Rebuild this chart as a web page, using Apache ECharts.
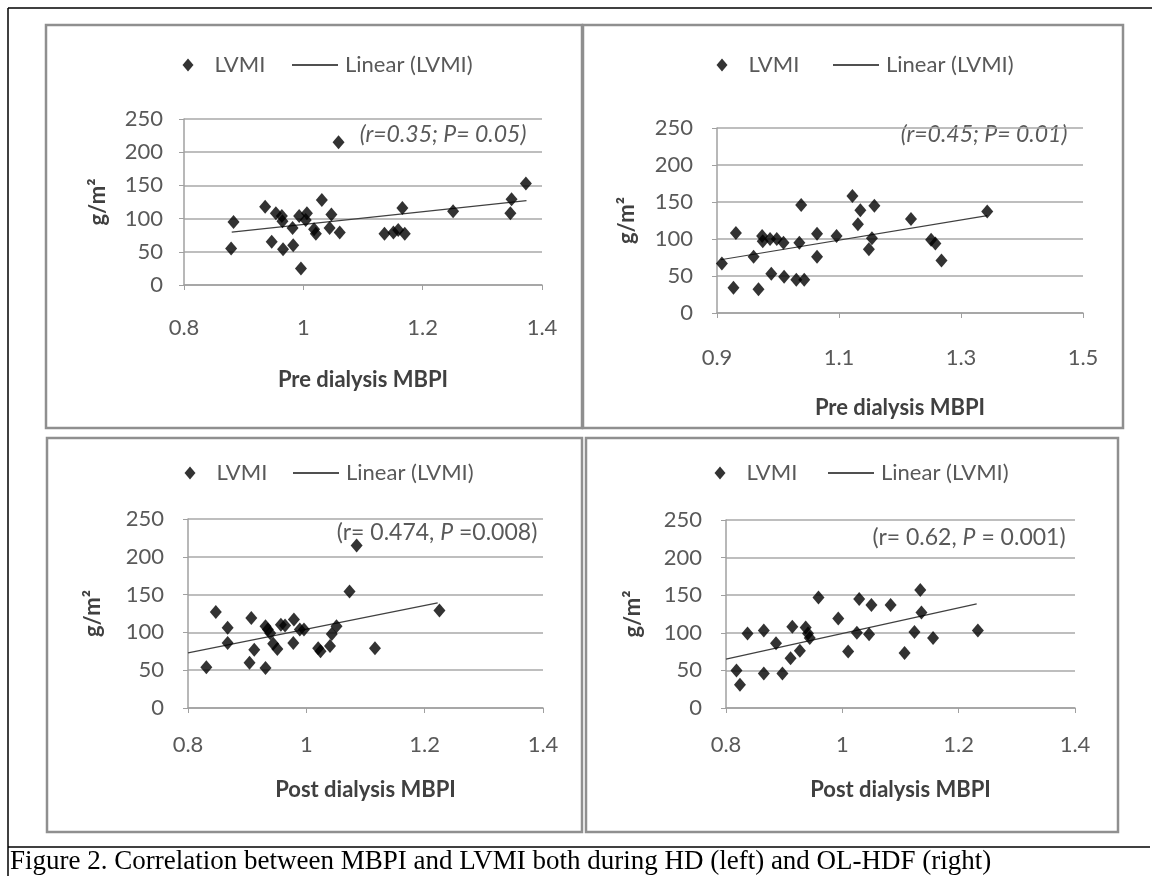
<!DOCTYPE html>
<html><head><meta charset="utf-8">
<script src="https://cdn.jsdelivr.net/npm/echarts@6/dist/echarts.min.js"></script>
<style>html,body{margin:0;padding:0;background:#fff}#c{width:1152px;height:876px}</style>
</head><body><div id="c"></div>
<script>
// ---- Data ----
// HD, pre dialysis (top left)
const hdPreX = [0.879,0.883,0.936,0.947,0.954,0.964,0.965,0.966,0.982,0.983,0.996,0.993,1.006,1.004,1.018,1.021,1.031,1.044,1.047,1.061,1.059,1.136,1.151,1.159,1.166,1.170,1.251,1.347,1.349,1.373];
const hdPreY = [55,95,118,65,108,104,96,54,86,60,25,104,108,98,84,77,128,86,106,79,215,77,79,83,116,77,111,108,129,153];
const hdPreTrendX = [0.880, 1.374];
const hdPreTrendY = [79.5, 127];
// OL-HDF, pre dialysis (top right)
const hdfPreX = [0.908,0.927,0.931,0.960,0.968,0.974,0.975,0.987,0.998,1.009,0.989,1.010,1.030,1.043,1.035,1.038,1.064,1.064,1.096,1.122,1.135,1.131,1.149,1.154,1.158,1.218,1.251,1.258,1.268,1.343];
const hdfPreY = [67,34,108,76,32,104,97,100,100,95,53,49,45,45,95,146,107,76,104,158,139,120,86,101,145,127,99,94,71,137];
const hdfPreTrendX = [0.906, 1.343];
const hdfPreTrendY = [72, 131.5];
// HD, post dialysis (bottom left)
const hdPostX = [0.831,0.847,0.867,0.867,0.904,0.907,0.912,0.931,0.931,0.935,0.939,0.944,0.951,0.957,0.964,0.978,0.979,0.989,0.996,1.020,1.024,1.040,1.043,1.051,1.073,1.085,1.116,1.225];
const hdPostY = [54,127,106,86,60,119,77,53,108,104,99,85,78,110,109,86,117,104,104,79,75,82,98,108,154,215,79,129];
const hdPostTrendX = [0.8, 1.222];
const hdPostTrendY = [73, 139];
// OL-HDF, post dialysis (bottom right)
const hdfPostX = [0.818,0.824,0.837,0.865,0.865,0.886,0.897,0.911,0.914,0.927,0.937,0.941,0.944,0.959,0.993,1.010,1.025,1.029,1.046,1.050,1.083,1.107,1.124,1.134,1.136,1.156,1.233];
const hdfPostY = [50,31,99,103,46,86,46,66,108,76,107,99,93,147,119,75,100,145,98,137,137,73,101,157,127,93,103];
const hdfPostTrendX = [0.8, 1.231];
const hdfPostTrendY = [65, 138.5];

// Tick values and labels
const xTicksA = [0.8, 1.0, 1.2, 1.4];
const xTickLabelsA = ['0.8', '1', '1.2', '1.4'];
const xTicksB = [0.9, 1.1, 1.3, 1.5];
const xTickLabelsB = ['0.9', '1.1', '1.3', '1.5'];
const yTicks = [0, 50, 100, 150, 200, 250];

// Text
const seriesName = 'LVMI';
const trendName = 'Linear (LVMI)';
const yName = 'g/m\u00B2';
const xNamePre = 'Pre dialysis MBPI';
const xNamePost = 'Post dialysis MBPI';
const caption = 'Figure 2. Correlation between MBPI and LVMI both during HD (left) and OL-HDF (right)';

// ---- Layout ----
const FONT = 'Lato, "Open Sans", sans-serif';
const panels = [
  {xs: hdPreX, ys: hdPreY, tx: hdPreTrendX, ty: hdPreTrendY, ticks: xTicksA, labels: xTickLabelsA, xName: xNamePre,
   grid: {left: 184, top: 119, width: 358, height: 166}, yLabM: 21, xLabM: 32, xNameGap: 84, yNameGap: 75,
   legend: {a: 182.5, b: 292, top: 54}, frame: [46, 25, 536, 403],
   note: {x: 443, y: 135, text: '{i|(r=0.35; P= 0.05)}'}},
  {xs: hdfPreX, ys: hdfPreY, tx: hdfPreTrendX, ty: hdfPreTrendY, ticks: xTicksB, labels: xTickLabelsB, xName: xNamePre,
   grid: {left: 717, top: 128, width: 366, height: 185}, yLabM: 24, xLabM: 34, xNameGap: 84, yNameGap: 79,
   legend: {a: 716.5, b: 833, top: 54}, frame: [583, 25, 540, 403],
   note: {x: 984, y: 135, text: '{i|(r=0.45; P= 0.01)}'}},
  {xs: hdPostX, ys: hdPostY, tx: hdPostTrendX, ty: hdPostTrendY, ticks: xTicksA, labels: xTickLabelsA, xName: xNamePost,
   grid: {left: 188, top: 519, width: 355, height: 189}, yLabM: 24, xLabM: 26, xNameGap: 71, yNameGap: 84,
   legend: {a: 184.5, b: 293, top: 462}, frame: [47, 438, 535, 394],
   note: {x: 437, y: 533, text: '{n|(r= 0.474, }{i|P}{n| =0.008)}'}},
  {xs: hdfPostX, ys: hdfPostY, tx: hdfPostTrendX, ty: hdfPostTrendY, ticks: xTicksA, labels: xTickLabelsA, xName: xNamePost,
   grid: {left: 726, top: 520, width: 349, height: 188}, yLabM: 24, xLabM: 26, xNameGap: 71, yNameGap: 82,
   legend: {a: 714.5, b: 828, top: 462}, frame: [586, 438, 532, 394],
   note: {x: 969, y: 538, text: '{n|(r= 0.62, }{i|P}{n| = 0.001)}'}}
];

const zip = (a, b) => a.map((v, i) => [v, b[i]]);
const axisGray = '#a0a0a0';
const labelColor = '#595959';
const legendText = {fontFamily: FONT, fontSize: 22, color: labelColor};

const option = {
  animation: false,
  backgroundColor: '#ffffff',
  grid: panels.map(p => Object.assign({containLabel: false}, p.grid)),
  legend: panels.flatMap(p => [
    {left: p.legend.a, top: p.legend.top, padding: 0, itemWidth: 11, itemHeight: 13, selectedMode: false,
     textStyle: Object.assign({padding: [0, 0, 0, 16]}, legendText),
     data: [{name: seriesName, icon: 'diamond'}]},
    {left: p.legend.b, top: p.legend.top, padding: 0, itemWidth: 46, itemHeight: 2, selectedMode: false,
     textStyle: Object.assign({padding: [0, 0, 0, 2]}, legendText),
     data: [{name: trendName, icon: 'rect'}]}
  ]),
  xAxis: panels.map((p, i) => ({
    type: 'value', gridIndex: i, min: p.ticks[0], max: p.ticks[p.ticks.length - 1],
    axisLine: {show: true, onZero: false, lineStyle: {color: axisGray, width: 1.5}},
    axisTick: {show: true, length: 5, customValues: p.ticks, lineStyle: {color: axisGray}},
    axisLabel: {customValues: p.ticks, margin: p.xLabM, fontFamily: FONT, fontSize: 22, color: labelColor,
      formatter: v => { const k = p.ticks.findIndex(t => Math.abs(t - v) < 1e-9); return k >= 0 ? p.labels[k] : ''; }},
    splitLine: {show: false},
    name: p.xName, nameLocation: 'middle', nameGap: p.xNameGap,
    nameTextStyle: {fontFamily: FONT, fontSize: 22, fontWeight: 'bold', color: '#404040'}
  })),
  yAxis: panels.map((p, i) => ({
    type: 'value', gridIndex: i, min: yTicks[0], max: yTicks[yTicks.length - 1], interval: 50,
    axisLine: {show: true, lineStyle: {color: axisGray, width: 1.5}},
    axisTick: {show: true, length: 5, lineStyle: {color: axisGray}},
    axisLabel: {margin: p.yLabM, fontFamily: FONT, fontSize: 22, color: labelColor},
    splitLine: {show: true, lineStyle: {color: '#a8a8a8', width: 1.5}},
    name: yName, nameLocation: 'middle', nameGap: p.yNameGap,
    nameTextStyle: {fontFamily: FONT, fontSize: 22, fontWeight: 'bold', color: '#404040'}
  })),
  series: panels.flatMap((p, i) => [
    {name: seriesName, type: 'scatter', xAxisIndex: i, yAxisIndex: i, data: zip(p.xs, p.ys),
     symbol: 'diamond', symbolSize: [12, 14], itemStyle: {color: '#000000'}, z: 3},
    {name: trendName, type: 'line', xAxisIndex: i, yAxisIndex: i, data: zip(p.tx, p.ty),
     symbol: 'none', lineStyle: {color: '#404040', width: 1.2}, itemStyle: {color: '#505050'}, z: 2}
  ]),
  graphic: [].concat(
    [
      {type: 'line', shape: {x1: 8, y1: 8, x2: 1152, y2: 8}, style: {stroke: '#000', lineWidth: 1.5}},
      {type: 'line', shape: {x1: 8, y1: 8, x2: 8, y2: 876}, style: {stroke: '#000', lineWidth: 1.5}},
      {type: 'line', shape: {x1: 8, y1: 847, x2: 1150, y2: 847}, style: {stroke: '#000', lineWidth: 1.5}},
      {type: 'text', x: 10, y: 862, style: {text: caption, fontFamily: '"Liberation Serif", "Times New Roman", serif',
        fontSize: 27, fill: '#000', verticalAlign: 'middle', align: 'left'}}
    ],
    panels.map(p => ({type: 'rect', z: -1, shape: {x: p.frame[0], y: p.frame[1], width: p.frame[2], height: p.frame[3]},
      style: {fill: 'none', stroke: '#8f8f8f', lineWidth: 2.5}})),
    panels.map(p => ({type: 'text', x: p.note.x, y: p.note.y,
      style: {text: p.note.text, verticalAlign: 'middle', align: 'center', fill: labelColor,
        rich: {
          i: {fontFamily: FONT, fontSize: 23, fontStyle: 'italic', fill: labelColor},
          n: {fontFamily: FONT, fontSize: 23, fill: labelColor}
        }}}))
  )
};

const chart = echarts.init(document.getElementById('c'), null, {renderer: 'canvas'});
chart.setOption(option);
</script>
</body></html>
